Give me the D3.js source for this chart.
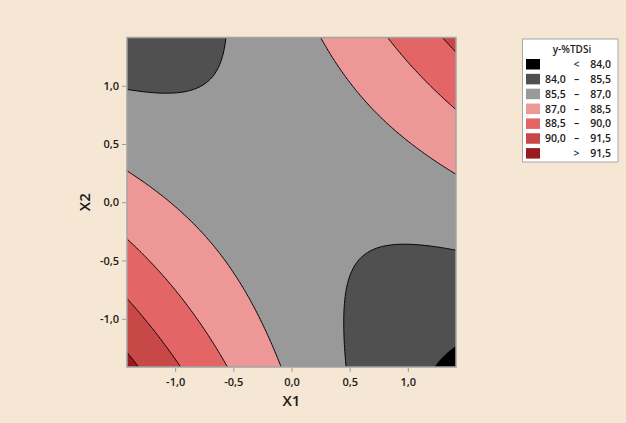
<!DOCTYPE html>
<html>
<head>
<meta charset="utf-8">
<script src="https://cdn.jsdelivr.net/npm/d3@7"></script>
<style>
  html, body { margin: 0; padding: 0; background: #f5e7d3; }
  svg { display: block; }
  text { font-family: "Open Sans", "Noto Sans", sans-serif; fill: #1a1a1a; }
</style>
</head>
<body>
<svg id="chart" width="626" height="423"></svg>
<script>
// Fitted quadratic response model for y-%TDSi in coded units X1, X2
const terms = ["Constant", "X1", "X2", "X1*X1", "X2*X2", "X1*X2"];
const coefficients = [85.94, -0.442, -0.098, 0.55, 0.33, 1.7375];

// Contour levels and legend bands
const levels = [84.0, 85.5, 87.0, 88.5, 90.0, 91.5];
const bandLabels = [
  ["", "<", "84,0"],
  ["84,0", "–", "85,5"],
  ["85,5", "–", "87,0"],
  ["87,0", "–", "88,5"],
  ["88,5", "–", "90,0"],
  ["90,0", "–", "91,5"],
  ["", ">", "91,5"]
];
const bandColors = ["#000000", "#505050", "#999999", "#ee9797", "#e46565", "#c84747", "#981c1f"];

// Axes
const axisRange = [-1.414, 1.414];
const xTicks = [-1.0, -0.5, 0.0, 0.5, 1.0];
const yTicks = [-1.0, -0.5, 0.0, 0.5, 1.0];
const xTitle = "X1", yTitle = "X2", legendTitle = "y-%TDSi";

const svg = d3.select("#chart");
const plot = { left: 127, right: 456, top: 37.5, bottom: 367 };

const x = d3.scaleLinear().domain(axisRange).range([plot.left, plot.right]);
const y = d3.scaleLinear().domain(axisRange).range([plot.bottom, plot.top]);

function model(u, v) {
  const c = coefficients;
  return c[0] + c[1] * u + c[2] * v + c[3] * u * u + c[4] * v * v + c[5] * u * v;
}

// Evaluate the model on a grid a little wider than the axes so the
// contour rings close outside the clipped plot area.
const ext = 1.5, n = 240, step = (2 * ext) / n;
const grid = new Array(n * n);
for (let j = 0; j < n; j++) {
  for (let i = 0; i < n; i++) {
    grid[j * n + i] = model(-ext + (i + 0.5) * step, ext - (j + 0.5) * step);
  }
}

const projection = d3.geoTransform({
  point(gx, gy) {
    this.stream.point(x(-ext + gx * step), y(ext - gy * step));
  }
});
const path = d3.geoPath(projection);

const contours = d3.contours().size([n, n]).thresholds(levels)(grid);

svg.append("clipPath").attr("id", "plotClip")
  .append("rect")
  .attr("x", plot.left).attr("y", plot.top)
  .attr("width", plot.right - plot.left).attr("height", plot.bottom - plot.top);

const g = svg.append("g").attr("clip-path", "url(#plotClip)");

// lowest band fills the whole area
g.append("rect")
  .attr("x", plot.left).attr("y", plot.top)
  .attr("width", plot.right - plot.left).attr("height", plot.bottom - plot.top)
  .attr("fill", bandColors[0]);

g.selectAll("path.band")
  .data(contours)
  .join("path")
  .attr("class", "band")
  .attr("d", path)
  .attr("fill", (d, i) => bandColors[i + 1]);

g.selectAll("path.iso")
  .data(contours)
  .join("path")
  .attr("class", "iso")
  .attr("d", path)
  .attr("fill", "none")
  .attr("stroke", "#000")
  .attr("stroke-width", 1);

// plot frame
svg.append("rect")
  .attr("x", plot.left).attr("y", plot.top)
  .attr("width", plot.right - plot.left).attr("height", plot.bottom - plot.top)
  .attr("fill", "none").attr("stroke", "#a3a3a3").attr("stroke-width", 1.5);

const fmt = v => d3.format(".1f")(v).replace(".", ",").replace("\u2212", "-");

const xAxis = d3.axisBottom(x).tickValues(xTicks).tickSize(4).tickPadding(6).tickFormat(fmt);
const yAxis = d3.axisLeft(y).tickValues(yTicks).tickSize(4).tickPadding(3).tickFormat(fmt);

const gx = svg.append("g").attr("transform", `translate(0,${plot.bottom + 1})`).call(xAxis);
const gy = svg.append("g").attr("transform", `translate(${plot.left - 1},0)`).call(yAxis);
[gx, gy].forEach(a => {
  a.select(".domain").remove();
  a.selectAll(".tick line").attr("stroke", "#9a9a9a");
  a.selectAll(".tick text").attr("font-size", 11).attr("font-weight", 600).attr("fill", "#1a1a1a")
    .style("font-family", "'Open Sans', sans-serif");
});

svg.append("text")
  .attr("x", (plot.left + plot.right) / 2).attr("y", 406)
  .attr("text-anchor", "middle").attr("font-size", 15).attr("font-weight", 600)
  .text(xTitle);

svg.append("text")
  .attr("transform", `translate(90,${(plot.top + plot.bottom) / 2}) rotate(-90)`)
  .attr("text-anchor", "middle").attr("font-size", 15).attr("font-weight", 600)
  .text(yTitle);

// legend
const lg = svg.append("g");
lg.append("rect")
  .attr("x", 522.5).attr("y", 39).attr("width", 95.5).attr("height", 123)
  .attr("fill", "#fff").attr("stroke", "#a8a8a8");
lg.append("text")
  .attr("x", 572).attr("y", 52.5).attr("text-anchor", "middle")
  .attr("font-size", 10).attr("font-weight", 600).text(legendTitle);

const rows = lg.selectAll("g.row").data(bandLabels).join("g")
  .attr("class", "row")
  .attr("transform", (d, i) => `translate(0,${59 + i * 14.85})`);
rows.append("rect")
  .attr("x", 526).attr("y", 0).attr("width", 14).attr("height", 10.5)
  .attr("fill", (d, i) => bandColors[i]);
rows.append("text").attr("x", 545).attr("y", 9).attr("font-size", 10.5).attr("font-weight", 600)
  .text(d => d[0]);
rows.append("text").attr("x", 576.5).attr("y", 9).attr("text-anchor", "middle")
  .attr("font-size", 10.5).attr("font-weight", 600).text(d => d[1]);
rows.append("text").attr("x", 611).attr("y", 9).attr("text-anchor", "end")
  .attr("font-size", 10.5).attr("font-weight", 600).text(d => d[2]);
</script>
</body>
</html>
